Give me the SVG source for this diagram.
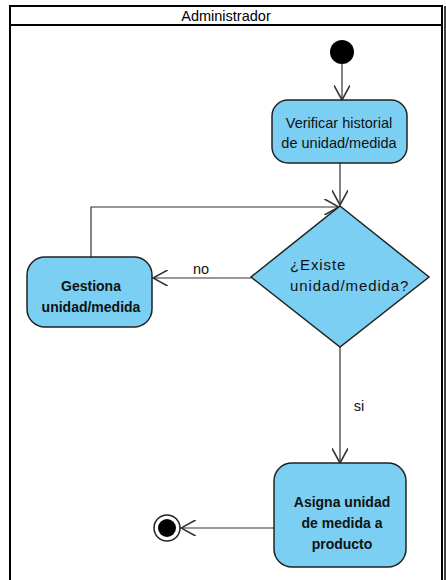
<svg xmlns="http://www.w3.org/2000/svg" width="446" height="580" viewBox="0 0 446 580">
  <style>
    .lane { fill: none; stroke: #000; stroke-width: 2; }
    .act { fill: #7BCFF3; stroke: #222; stroke-width: 1.5; }
    .flow { fill: none; stroke: #333; stroke-width: 1.2; }
    .t { font-family: "Liberation Sans", Arial, sans-serif; font-size: 14.5px; fill: #111; text-anchor: middle; }
    .b { font-weight: bold; font-size: 14px; }
    .q { font-size: 15px; letter-spacing: 0.9px; text-anchor: start; }
    .hdr { font-family: "Liberation Sans", Arial, sans-serif; font-size: 14.5px; fill: #000; text-anchor: middle; }
  </style>
  <defs>
    <marker id="open" viewBox="0 0 12 12" refX="11" refY="6" markerWidth="16" markerHeight="16" markerUnits="userSpaceOnUse" orient="auto">
      <path d="M0,0 L11,6 L0,12" fill="none" stroke="#333" stroke-width="1.2"/>
    </marker>
  </defs>

  <rect width="446" height="580" fill="#fff"/>

  <!-- swimlane -->
  <g id="lane">
    <rect class="lane" x="10" y="6" width="432" height="580"/>
    <line class="lane" x1="10" y1="25" x2="442" y2="25"/>
    <line x1="445" y1="6" x2="445" y2="580" stroke="#000" stroke-width="1.5"/>
    <text class="hdr" x="226" y="21">Administrador</text>
  </g>

  <!-- connectors -->
  <g id="connectors">
    <line class="flow" x1="342" y1="64" x2="342" y2="100" marker-end="url(#open)"/>
    <line class="flow" x1="340" y1="163" x2="340" y2="205" marker-end="url(#open)"/>
    <polyline class="flow" points="91,257 91,207 339,207" marker-end="url(#open)"/>
    <line class="flow" x1="251" y1="278" x2="153" y2="278" marker-end="url(#open)"/>
    <text class="t" x="201" y="274">no</text>
    <line class="flow" x1="340" y1="347" x2="340" y2="463" marker-end="url(#open)"/>
    <text class="t" x="359" y="411">si</text>
    <line class="flow" x1="274" y1="528" x2="181" y2="528" marker-end="url(#open)"/>
  </g>

  <g id="start">
    <circle cx="342" cy="52" r="12" fill="#000"/>
  </g>

  <g id="verificar">
    <rect class="act" x="272" y="100" width="135" height="63" rx="16"/>
    <text class="t" x="339" y="128">Verificar historial</text>
    <text class="t" x="339" y="148">de unidad/medida</text>
  </g>

  <g id="decision">
    <polygon class="act" points="340,206 429,277 340,347 251,277"/>
    <text class="t q" x="290" y="270">¿Existe</text>
    <text class="t q" x="290" y="291">unidad/medida?</text>
  </g>

  <g id="gestiona">
    <rect class="act" x="27" y="257" width="125" height="70" rx="18"/>
    <text class="t b" x="91" y="291">Gestiona</text>
    <text class="t b" x="91" y="312">unidad/medida</text>
  </g>

  <g id="asigna">
    <rect class="act" x="274" y="463" width="132" height="104" rx="18"/>
    <text class="t b" x="342" y="507">Asigna unidad</text>
    <text class="t b" x="342" y="528">de medida a</text>
    <text class="t b" x="342" y="549">producto</text>
  </g>

  <g id="end">
    <circle cx="167" cy="528" r="13" fill="#fff" stroke="#222" stroke-width="1.5"/>
    <circle cx="167" cy="528" r="9" fill="#000"/>
  </g>
</svg>
